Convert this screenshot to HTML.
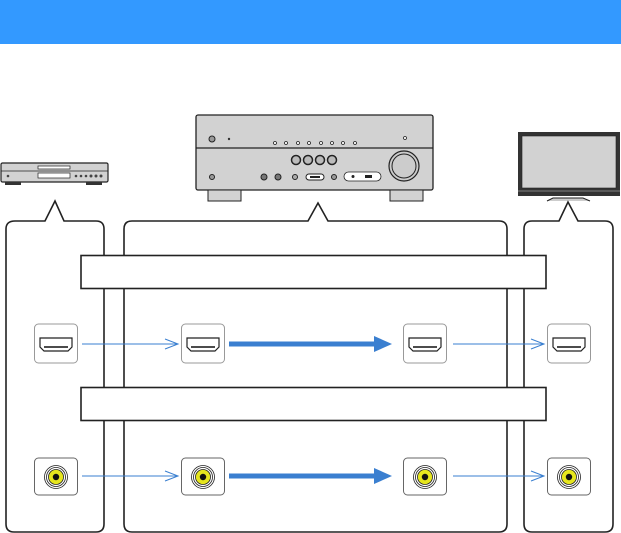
<!DOCTYPE html>
<html><head><meta charset="utf-8"><style>
html,body{margin:0;padding:0;background:#fff;width:621px;height:533px;overflow:hidden}
svg{display:block}
</style></head><body>
<svg width="621" height="533" viewBox="0 0 621 533" xmlns="http://www.w3.org/2000/svg">
<defs>
<g id="hdmi">
  <rect x="-21.5" y="-20" width="43" height="39" rx="4" fill="#fff" stroke="#999" stroke-width="1"/>
  <path d="M-16,-6 H16 V3 L12,7 H-12 L-16,3 Z" fill="#fff" stroke="#222" stroke-width="1.2"/>
  <line x1="-12" y1="3" x2="12" y2="3" stroke="#111" stroke-width="1.6"/>
</g>
<g id="jack">
  <rect x="-21.5" y="-19" width="43" height="37" rx="4" fill="#fff" stroke="#666" stroke-width="1"/>
  <circle cx="0" cy="0" r="11.5" fill="#fff" stroke="#222" stroke-width="0.8"/>
  <circle cx="0" cy="0" r="9.5" fill="#fff" stroke="#222" stroke-width="0.8"/>
  <circle cx="0" cy="0" r="7.5" fill="#e6e61e" stroke="#222" stroke-width="0.8"/>
  <circle cx="0" cy="0" r="3.2" fill="#111"/>
</g>
</defs>
<rect x="0" y="0" width="621" height="44" fill="#3399ff"/>

<!-- CD player -->
<rect x="1" y="163" width="107" height="19" rx="1.5" fill="#d2d2d2" stroke="#222" stroke-width="1.2"/>
<line x1="1" y1="171" x2="108" y2="171" stroke="#222" stroke-width="0.8"/>
<rect x="38" y="166" width="32" height="3" fill="#fff" stroke="#222" stroke-width="0.7"/>
<rect x="38" y="173" width="32" height="5" fill="#fff" stroke="#222" stroke-width="0.7"/>
<rect x="5" y="182" width="16" height="3" fill="#333"/><rect x="86" y="182" width="16" height="3" fill="#333"/>
<circle cx="8" cy="176" r="1.3" fill="#444"/>
<circle cx="76" cy="176" r="1.3" fill="#444"/><circle cx="81" cy="176" r="1.3" fill="#444"/><circle cx="86" cy="176" r="1.3" fill="#444"/><circle cx="91" cy="176" r="1.5" fill="#444"/><circle cx="96" cy="176" r="1.5" fill="#444"/><circle cx="101" cy="176" r="1.5" fill="#444"/>

<!-- Receiver -->
<rect x="196" y="115" width="237" height="75" rx="2" fill="#d2d2d2" stroke="#222" stroke-width="1.3"/>
<line x1="196" y1="148" x2="433" y2="148" stroke="#222" stroke-width="1.2"/>
<rect x="208" y="190" width="33" height="11" fill="#d2d2d2" stroke="#222" stroke-width="1"/>
<rect x="390" y="190" width="33" height="11" fill="#d2d2d2" stroke="#222" stroke-width="1"/>
<circle cx="212" cy="139" r="3" fill="#999" stroke="#222"/>
<circle cx="229" cy="139" r="1.2" fill="#333"/>
<g fill="#fff" stroke="#222" stroke-width="0.8">
<circle cx="275" cy="143" r="1.5"/><circle cx="286" cy="143" r="1.5"/><circle cx="298" cy="143" r="1.5"/><circle cx="309" cy="143" r="1.5"/><circle cx="321" cy="143" r="1.5"/><circle cx="332" cy="143" r="1.5"/><circle cx="343" cy="143" r="1.5"/><circle cx="355" cy="143" r="1.5"/><circle cx="405" cy="138" r="1.5"/>
</g>
<g fill="#bbb" stroke="#222" stroke-width="1.5">
<circle cx="296" cy="160" r="4.5"/><circle cx="308" cy="160" r="4.5"/><circle cx="320" cy="160" r="4.5"/><circle cx="332" cy="160" r="4.5"/>
</g>
<circle cx="212" cy="177" r="2.5" fill="#999" stroke="#222"/>
<circle cx="264" cy="177" r="3" fill="#777" stroke="#222"/><circle cx="278" cy="177" r="3" fill="#777" stroke="#222"/><circle cx="295" cy="177" r="2.5" fill="#aaa" stroke="#222"/>
<rect x="306" y="174" width="18" height="6" rx="3" fill="#fff" stroke="#222"/><rect x="310" y="176" width="10" height="2" fill="#222"/>
<circle cx="334" cy="177" r="2.5" fill="#999" stroke="#222"/>
<rect x="344" y="172" width="37" height="9" rx="4.5" fill="#fff" stroke="#222" stroke-width="0.8"/>
<circle cx="353" cy="176.5" r="1.5" fill="#222"/><rect x="365" y="175" width="7" height="3" fill="#222"/>
<circle cx="404" cy="166" r="15" fill="#ccc" stroke="#222" stroke-width="1.2"/>
<circle cx="404" cy="166" r="12" fill="#ccc" stroke="#222" stroke-width="1"/>

<!-- TV -->
<rect x="518" y="132" width="102" height="64" fill="#333"/>
<rect x="522" y="136" width="94" height="52" fill="#d2d2d2" stroke="#222" stroke-width="0.6"/>
<line x1="518" y1="191" x2="620" y2="191" stroke="#d2d2d2" stroke-width="0.5"/>
<path d="M547,201 L553,198 H583 L590,201" fill="#ccc" stroke="#222" stroke-width="1"/>

<!-- Callout boxes -->
<g fill="#fff" stroke="#222" stroke-width="1.6">
<path d="M15,221 H45 L55,201 L64,221 H96 Q104,221 104,229 V524 Q104,532 96,532 H14 Q6,532 6,524 V229 Q6,221 15,221 Z"/>
<path d="M132,221 H308 L318,203 L328,221 H499 Q507,221 507,229 V524 Q507,532 499,532 H132 Q124,532 124,524 V229 Q124,221 132,221 Z"/>
<path d="M532,221 H559 L568,202 L578,221 H605 Q613,221 613,229 V524 Q613,532 605,532 H532 Q524,532 524,524 V229 Q524,221 532,221 Z"/>
</g>

<!-- Bands -->
<rect x="81" y="255.5" width="465" height="33" fill="#fff" stroke="#222" stroke-width="1.6"/>
<rect x="81" y="387.5" width="465" height="33" fill="#fff" stroke="#222" stroke-width="1.6"/>

<!-- HDMI row -->
<use href="#hdmi" x="56" y="344"/>
<use href="#hdmi" x="203" y="344"/>
<use href="#hdmi" x="425" y="344"/>
<use href="#hdmi" x="569" y="344"/>
<!-- Jack row -->
<use href="#jack" x="56" y="477"/>
<use href="#jack" x="203" y="477"/>
<use href="#jack" x="425" y="477"/>
<use href="#jack" x="569" y="477"/>

<!-- Arrows -->
<g stroke="#3a7fd0" fill="none" stroke-width="1">
<line x1="82" y1="344" x2="178" y2="344"/><path d="M165,339 L178,344 L165,349"/>
<line x1="453" y1="344" x2="544" y2="344"/><path d="M531,339 L544,344 L531,349"/>
<line x1="82" y1="476" x2="178" y2="476"/><path d="M165,471 L178,476 L165,481"/>
<line x1="453" y1="476" x2="544" y2="476"/><path d="M531,471 L544,476 L531,481"/>
</g>
<g fill="#3a7fd0">
<rect x="229" y="341.5" width="147" height="5"/><path d="M374,336 L392,344 L374,352 Z"/>
<rect x="229" y="473.5" width="147" height="5"/><path d="M374,468 L392,476 L374,484 Z"/>
</g>
</svg>
</body></html>
